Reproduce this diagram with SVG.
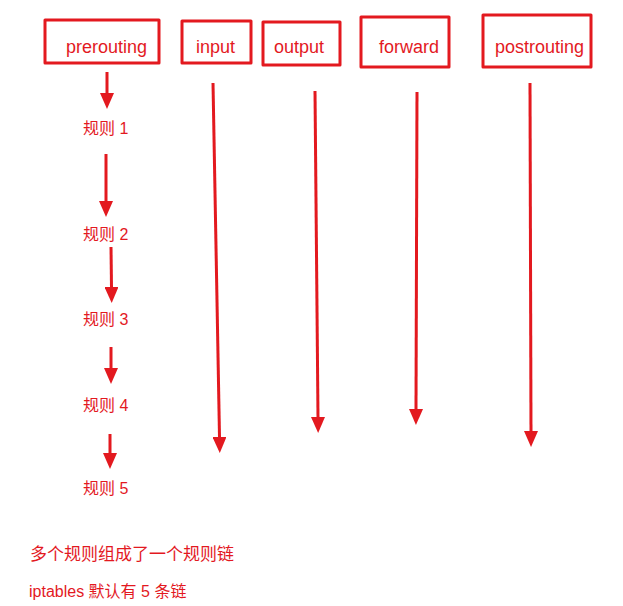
<svg xmlns="http://www.w3.org/2000/svg" width="623" height="606" viewBox="0 0 623 606">
<style>
.box{fill:none;stroke:#e3191f;stroke-width:3;stroke-linejoin:round}
.lbl{font-family:"Liberation Sans","Noto Sans CJK SC",sans-serif;font-size:18px;fill:#e3191f}
.rule{font-family:"Liberation Sans","Noto Sans CJK SC",sans-serif;font-size:16px;fill:#e3191f}
.note{font-family:"Liberation Sans","Noto Sans CJK SC",sans-serif;fill:#e3191f}
.arr{fill:none;stroke:#e3191f;stroke-width:3;marker-end:url(#ah)}
</style>
<defs>
<marker id="ah" markerUnits="userSpaceOnUse" markerWidth="16" markerHeight="14" refX="0" refY="7" orient="auto" viewBox="0 0 16 14">
<path d="M0,0 L16,7 L0,14 z" fill="#e3191f"/>
</marker>
</defs>
<rect width="623" height="606" fill="#ffffff"/>
<g id="prerouting"><rect class="box" x="45" y="20" width="114" height="43"/><text class="lbl" x="66" y="53">prerouting</text></g>
<g id="input"><rect class="box" x="182" y="21" width="69" height="42"/><text class="lbl" x="196" y="53">input</text></g>
<g id="output"><rect class="box" x="263" y="22" width="77" height="43"/><text class="lbl" x="274" y="53">output</text></g>
<g id="forward"><rect class="box" x="361" y="17" width="88" height="50"/><text class="lbl" x="379" y="53">forward</text></g>
<g id="postrouting"><rect class="box" x="483" y="15" width="108" height="52"/><text class="lbl" x="495" y="53">postrouting</text></g>
<g id="rule1"><text class="rule" x="83" y="134">规则 1</text></g>
<g id="rule2"><text class="rule" x="83" y="240">规则 2</text></g>
<g id="rule3"><text class="rule" x="83" y="325">规则 3</text></g>
<g id="rule4"><text class="rule" x="83" y="411">规则 4</text></g>
<g id="rule5"><text class="rule" x="83" y="494">规则 5</text></g>
<g id="notes">
<text class="note" x="30" y="560" font-size="17">多个规则组成了一个规则链</text>
<text class="note" x="29" y="597" font-size="16">iptables 默认有 5 条链</text>
</g>
<g id="connectors">
<line class="arr" x1="107" y1="72" x2="107" y2="93"/>
<line class="arr" x1="106" y1="154" x2="106" y2="201"/>
<line class="arr" x1="111" y1="247" x2="111.5" y2="287"/>
<line class="arr" x1="111" y1="347" x2="111" y2="368"/>
<line class="arr" x1="110" y1="434" x2="110" y2="453"/>
<line class="arr" x1="213" y1="83" x2="219.5" y2="437"/>
<line class="arr" x1="315" y1="91" x2="318" y2="417"/>
<line class="arr" x1="417" y1="92" x2="416" y2="409"/>
<line class="arr" x1="530" y1="83" x2="531" y2="431"/>
</g>
</svg>
